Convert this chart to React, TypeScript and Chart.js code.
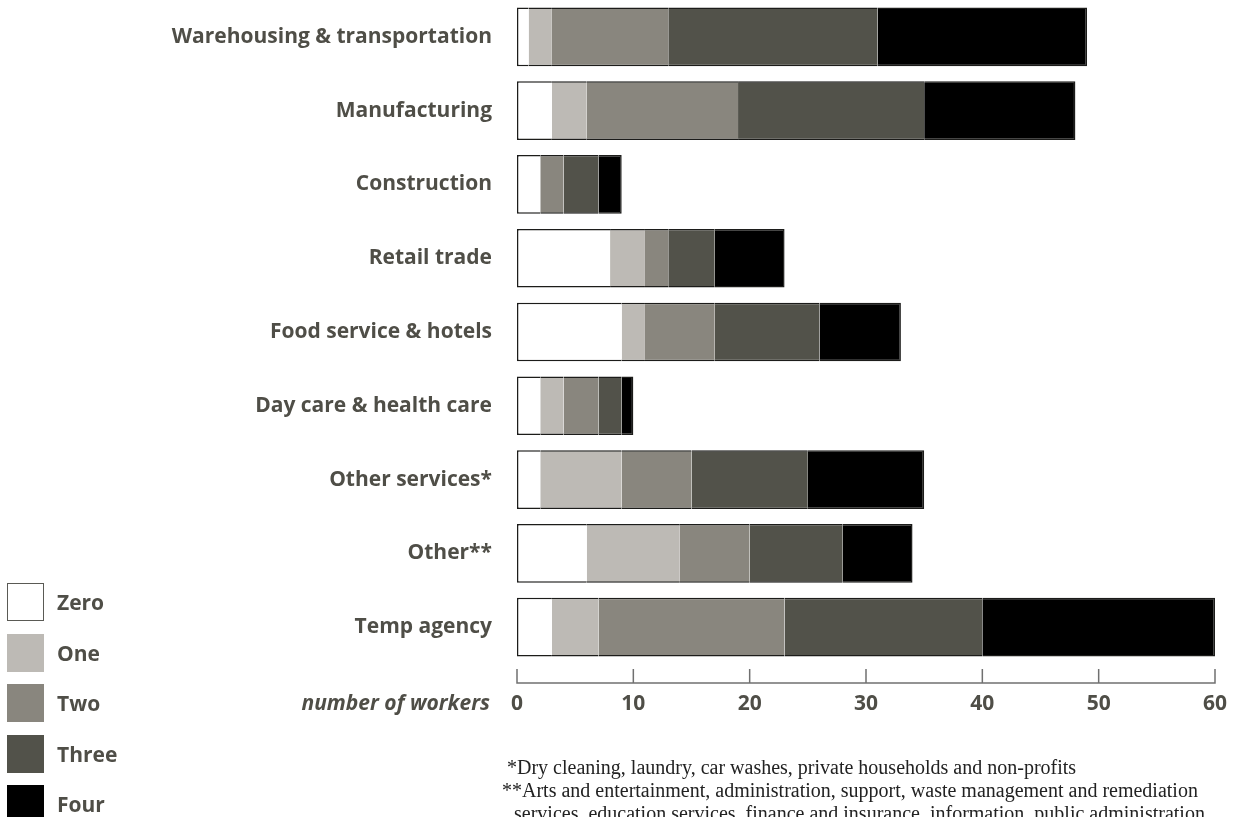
import React, { useEffect, useRef } from "react";
import { Chart, registerables } from "chart.js";

Chart.register(...registerables);

const categories = [
  "Warehousing & transportation",
  "Manufacturing",
  "Construction",
  "Retail trade",
  "Food service & hotels",
  "Day care & health care",
  "Other services*",
  "Other**",
  "Temp agency",
];
const seriesNames = ["Zero", "One", "Two", "Three", "Four"];
const zeroValues = [1, 3, 2, 8, 9, 2, 2, 6, 3];
const oneValues = [2, 3, 0, 3, 2, 2, 7, 8, 4];
const twoValues = [10, 13, 2, 2, 6, 3, 6, 6, 16];
const threeValues = [18, 16, 3, 4, 9, 2, 10, 8, 17];
const fourValues = [18, 13, 2, 6, 7, 1, 10, 6, 20];
const xTicks = [0, 10, 20, 30, 40, 50, 60];
const seriesColors = ["#ffffff", "#bdbab5", "#89867e", "#52524a", "#000000"];
const axisTitle = "number of workers";
const footnotes = [
  "*Dry cleaning, laundry, car washes, private households and non-profits",
  "**Arts and entertainment, administration, support, waste management and remediation",
  "services, education services, finance and insurance, information, public administration",
];

const TEXT_COLOR = "#4f4e47";
const LABEL_FONT = "'Open Sans', sans-serif";
const LABEL_SIZE = 21;

const axisPlugin = {
  id: "customAxis",
  afterDraw(chart: any) {
    const { ctx, chartArea } = chart;
    const x = chart.scales.x;
    const yLine = chartArea.bottom + 19;
    ctx.save();
    ctx.strokeStyle = "#707070";
    ctx.lineWidth = 1.5;
    ctx.beginPath();
    ctx.moveTo(x.getPixelForValue(xTicks[0]) - 0.75, yLine);
    ctx.lineTo(x.getPixelForValue(xTicks[xTicks.length - 1]) + 0.75, yLine);
    xTicks.forEach((t) => {
      const px = x.getPixelForValue(t);
      ctx.moveTo(px, yLine);
      ctx.lineTo(px, yLine - 14);
    });
    ctx.stroke();
    ctx.restore();
  },
};

export default function App() {
  const canvasRef = useRef<HTMLCanvasElement | null>(null);

  useEffect(() => {
    if (!canvasRef.current) return;
    const seriesValues = [zeroValues, oneValues, twoValues, threeValues, fourValues];
    const last = seriesValues.length - 1;
    const chart = new Chart(canvasRef.current, {
      type: "bar",
      data: {
        labels: categories,
        datasets: seriesValues.map((vals, i) => ({
          label: seriesNames[i],
          data: vals,
          backgroundColor: seriesColors[i],
          borderColor: "#1c1c1a",
          borderWidth: { top: 1.5, bottom: 1.5, left: i === 0 ? 1.5 : 0, right: i === last ? 1.5 : 0 },
          borderSkipped: false,
          barPercentage: 0.795,
          categoryPercentage: 1,
        })),
      },
      options: {
        indexAxis: "y",
        animation: false,
        responsive: false,
        maintainAspectRatio: false,
        layout: { padding: { top: 0, right: 19, left: 0, bottom: 0 } },
        plugins: {
          legend: { display: false },
          tooltip: { enabled: false },
        },
        scales: {
          x: {
            stacked: true,
            min: 0,
            max: 60,
            afterFit: (s: any) => {
              s.height = 153;
              s.paddingLeft = 0;
              s.paddingRight = 0;
            },
            grid: { display: false, drawTicks: false },
            border: { display: false },
            ticks: {
              stepSize: 10,
              padding: 27,
              color: TEXT_COLOR,
              font: { family: LABEL_FONT, size: LABEL_SIZE, weight: "bold" },
            },
          },
          y: {
            stacked: true,
            afterFit: (s: any) => {
              s.width = 517;
              s.paddingTop = 0;
              s.paddingBottom = 0;
            },
            grid: { display: false, drawTicks: false },
            border: { display: false },
            ticks: {
              padding: 25,
              color: TEXT_COLOR,
              font: { family: LABEL_FONT, size: LABEL_SIZE, weight: "bold" },
            },
          },
        },
      },
      plugins: [axisPlugin],
    });
    return () => chart.destroy();
  }, []);

  const legendTop = 583;
  const legendStep = 50.5;

  return (
    <div
      style={{
        position: "absolute",
        left: 0,
        top: 0,
        width: 1234,
        height: 817,
        overflow: "hidden",
        background: "#ffffff",
      }}
    >
      <canvas ref={canvasRef} width={1234} height={817} style={{ position: "absolute", left: 0, top: 0 }} />
      <div
        style={{
          position: "absolute",
          right: 1234 - 490,
          top: 689,
          height: 26,
          lineHeight: "26px",
          fontFamily: LABEL_FONT,
          fontWeight: "bold",
          fontStyle: "italic",
          fontSize: LABEL_SIZE,
          color: TEXT_COLOR,
          whiteSpace: "nowrap",
        }}
      >
        {axisTitle}
      </div>
      {seriesNames.map((name, i) => (
        <div key={name}>
          <div
            style={{
              position: "absolute",
              left: 7,
              top: legendTop + i * legendStep,
              width: 37,
              height: 38,
              boxSizing: "border-box",
              background: seriesColors[i],
              border: i === 0 ? "1.5px solid #5a5a55" : "none",
            }}
          />
          <div
            style={{
              position: "absolute",
              left: 57,
              top: legendTop + i * legendStep + 6,
              height: 26,
              lineHeight: "26px",
              fontFamily: LABEL_FONT,
              fontWeight: "bold",
              fontSize: LABEL_SIZE,
              color: TEXT_COLOR,
              whiteSpace: "nowrap",
            }}
          >
            {name}
          </div>
        </div>
      ))}
      {footnotes.map((line, i) => (
        <div
          key={i}
          style={{
            position: "absolute",
            left: [507, 502, 514][i],
            top: 756 + i * 23,
            height: 23,
            lineHeight: "23px",
            fontFamily: "'Liberation Serif', serif",
            fontSize: 20,
            color: "#222222",
            whiteSpace: "nowrap",
          }}
        >
          {line}
        </div>
      ))}
    </div>
  );
}
